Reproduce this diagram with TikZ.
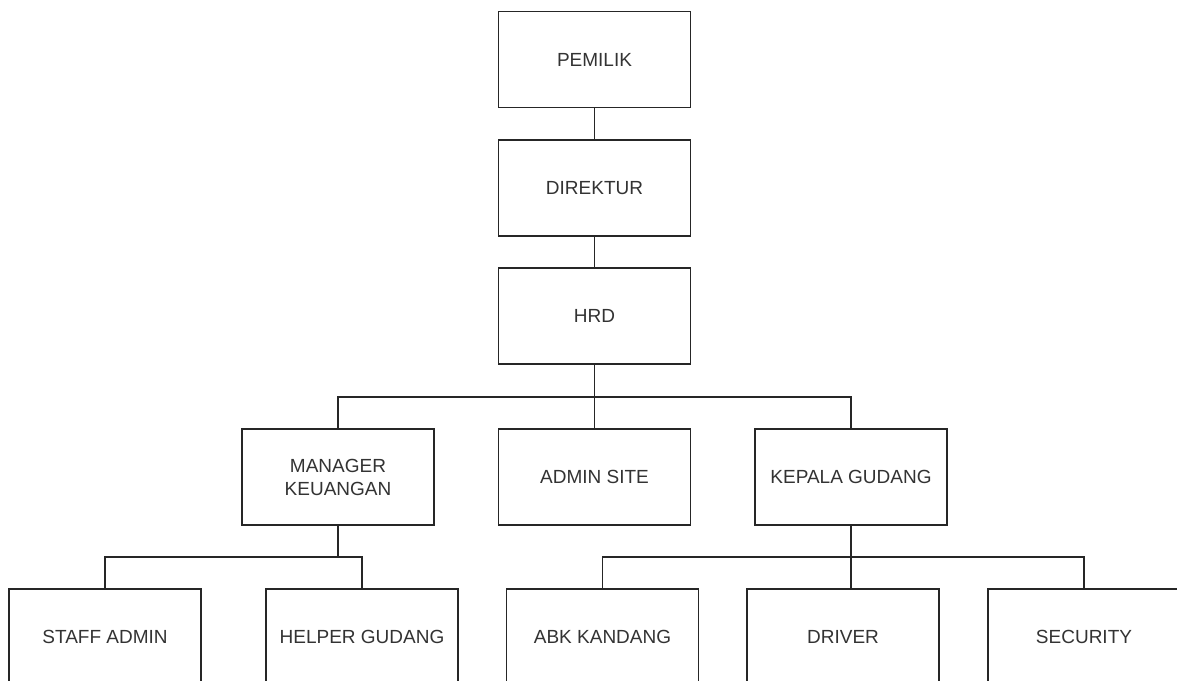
\documentclass[tikz,border=0pt]{standalone}
\usepackage{fontspec}
\setmainfont{Liberation Sans}
\begin{document}
\begin{tikzpicture}[x=1pt,y=-1pt,
  box/.style={draw=black!85, line width=1.4pt, fill=white, minimum width=192pt, minimum height=96pt, inner sep=0pt, font=\fontsize{19}{23}\selectfont, text=black!80, align=center},
  conn/.style={draw=black!85, line width=1.4pt}]
\useasboundingbox (0,0) rectangle (1177,680);
\clip (0,0) rectangle (1177,680);
\fill[white] (0,0) rectangle (1177,680);
\node[box] (pemilik) at (594.5,59.5) {PEMILIK};
\node[box] (direktur) at (594.5,188) {DIREKTUR};
\node[box] (hrd) at (594.5,316) {HRD};
\node[box] (manager) at (338,477) {MANAGER\\KEUANGAN};
\node[box] (admin) at (594.5,477) {ADMIN SITE};
\node[box] (kepala) at (851,477) {KEPALA GUDANG};
\node[box] (staff) at (105,637) {STAFF ADMIN};
\node[box] (helper) at (362,637) {HELPER GUDANG};
\node[box] (abk) at (602.5,637) {ABK KANDANG};
\node[box] (driver) at (843,637) {DRIVER};
\node[box] (security) at (1084,637) {SECURITY};
\coordinate (bus1) at (594.5,397);
\coordinate (bus2) at (338,557);
\coordinate (bus3) at (851,557);
\draw[conn] (pemilik.south) -- (direktur.north);
\draw[conn] (direktur.south) -- (hrd.north);
\draw[conn] (hrd.south) -- (bus1) -- (admin.north);
\draw[conn] (manager.north) |- (bus1) -| (kepala.north);
\draw[conn] (manager.south) -- (bus2);
\draw[conn] (staff.north) |- (bus2) -| (helper.north);
\draw[conn] (kepala.south) -- (bus3) -- (bus3 |- driver.north);
\draw[conn] (abk.north) |- (bus3) -| (security.north);
\end{tikzpicture}
\end{document}
